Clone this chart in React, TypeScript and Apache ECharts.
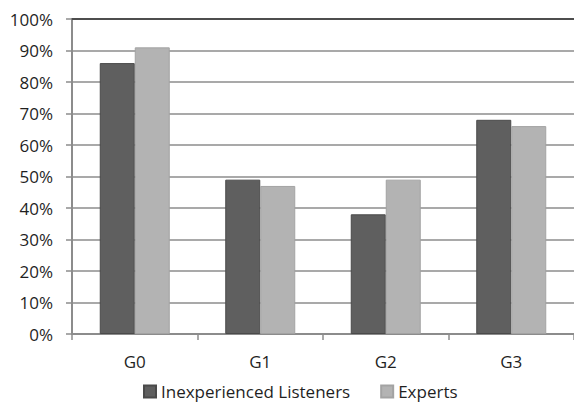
import React, { useEffect, useRef } from "react";
import * as echarts from "echarts";

const categories = ["G0", "G1", "G2", "G3"];
const inexperienced = [86, 49, 38, 68];
const experts = [91, 47, 49, 66];
const seriesNames = ["Inexperienced Listeners", "Experts"];

export default function App() {
  const ref = useRef<HTMLDivElement>(null);
  useEffect(() => {
    document.body.style.margin = "0";
    document.body.style.overflow = "hidden";
    const chart = echarts.init(ref.current!, null, { renderer: "svg" });
    const font = "'Open Sans', sans-serif";
    chart.setOption({
      animation: false,
      backgroundColor: "#ffffff",
      textStyle: { fontFamily: font },
      grid: { left: 72, right: -3, top: 19, bottom: 68, containLabel: false },
      legend: {
        data: seriesNames,
        left: 143,
        top: 383,
        padding: 0,
        itemWidth: 12,
        itemHeight: 12,
        itemGap: 30,
        icon: "rect",
        textStyle: { fontSize: 17, color: "#1f1f1f", fontFamily: font },
      },
      xAxis: [
        {
          type: "category",
          data: categories,
          axisLine: { lineStyle: { color: "#8c8c8c", width: 2 } },
          axisTick: { show: true, length: 6, lineStyle: { color: "#8c8c8c", width: 1.5 } },
          axisLabel: { fontSize: 17, color: "#1f1f1f", margin: 19, fontFamily: font },
          splitLine: { show: false },
        },
        {
          type: "category",
          data: categories,
          position: "top",
          axisLine: { lineStyle: { color: "#4d4d4d", width: 2 } },
          axisTick: { show: false },
          axisLabel: { show: false },
        },
      ],
      yAxis: {
        type: "value",
        min: 0,
        max: 100,
        interval: 10,
        axisLine: { show: true, lineStyle: { color: "#8c8c8c", width: 2 } },
        axisTick: { show: true, length: 6, lineStyle: { color: "#8c8c8c", width: 1.5 } },
        axisLabel: { formatter: "{value}%", fontSize: 17, color: "#1f1f1f", margin: 19, fontFamily: font },
        splitLine: { show: true, lineStyle: { color: "#8c8c8c", width: 1.5 } },
      },
      series: [
        {
          name: seriesNames[0],
          type: "bar",
          data: inexperienced,
          barWidth: 35,
          barGap: "0%",
          itemStyle: { color: "#5f5f5f", borderColor: "#4a4a4a", borderWidth: 1 },
        },
        {
          name: seriesNames[1],
          type: "bar",
          data: experts,
          barWidth: 35,
          barGap: "0%",
          itemStyle: { color: "#b3b3b3", borderColor: "#a3a3a3", borderWidth: 1 },
        },
      ],
    });
    return () => chart.dispose();
  }, []);
  return <div ref={ref} style={{ width: 574, height: 402 }} />;
}
